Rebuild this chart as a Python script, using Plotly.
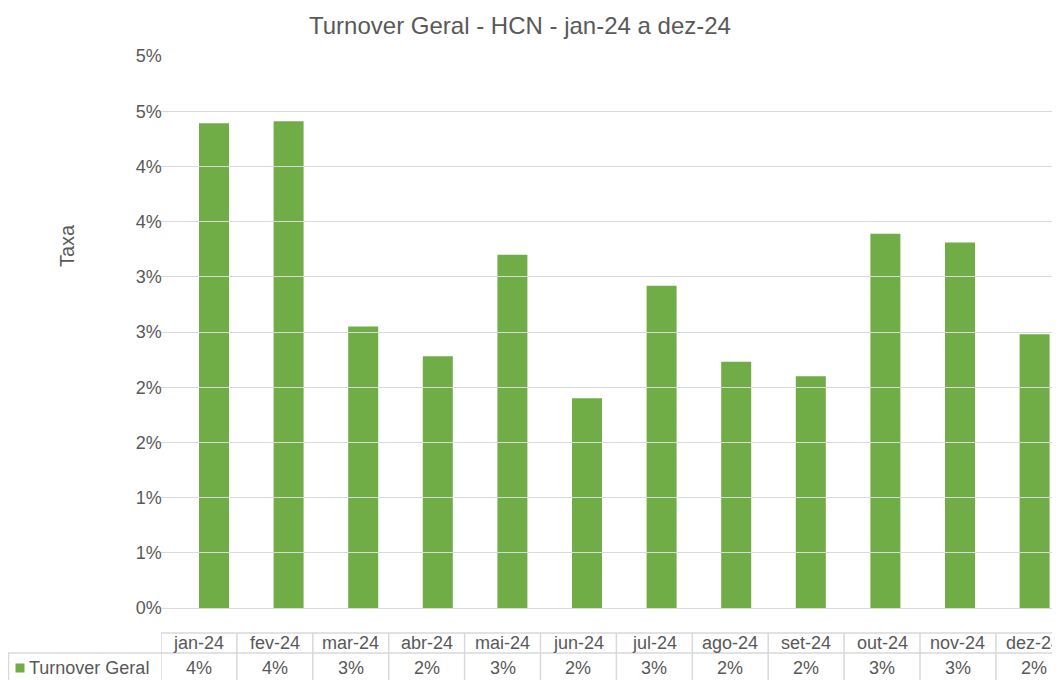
import plotly.graph_objects as go

# ---------------- data ----------------
months = ["jan-24", "fev-24", "mar-24", "abr-24", "mai-24", "jun-24",
          "jul-24", "ago-24", "set-24", "out-24", "nov-24", "dez-24"]
turnover = [0.0439, 0.0441, 0.0255, 0.0228, 0.0320, 0.0190,
            0.0292, 0.0223, 0.0210, 0.0339, 0.0331, 0.0248]
series_name = "Turnover Geral"
y_tickvals = [0.0, 0.005, 0.01, 0.015, 0.02, 0.025, 0.03, 0.035, 0.04, 0.045, 0.05]
y_ticktext = ["0%", "1%", "1%", "2%", "2%", "3%", "3%", "4%", "4%", "5%", "5%"]
title_text = "Turnover Geral - HCN - jan-24 a dez-24"
y_title = "Taxa"

# ---------------- layout constants ----------------
W, H = 1060, 680
OFF = 8  # page body margin compensation
GREEN = "#70AD47"
TEXT = "#595959"
GRID = "#D9D9D9"
FONT = "Liberation Sans, Arial, sans-serif"


def px(p):
    return (p - OFF) / W


def py(p):
    return 1 - (p - OFF) / H


def pct(v):
    return f"{int(v * 100 + 0.5)}%"


plot_left = 176.7
cat_w = 74.6
tab_left = 161.0
tab_w = 75.9
right_edge = W + OFF

fig = go.Figure()
fig.add_trace(go.Bar(
    x=months, y=turnover, name=series_name,
    marker=dict(color=GREEN, line=dict(width=0)),
    showlegend=False, hoverinfo="x+y",
))
# invisible helper trace for the data-table axis
fig.add_trace(go.Scatter(
    x=list(range(len(months))), y=[None] * len(months),
    xaxis="x2", yaxis="y", mode="markers", showlegend=False, hoverinfo="skip",
))

shapes = []
annotations = []

# data table: header + value row, using x2 (one column per month)
row_top, row_mid, row_bot = 633, 653, 700
line_style = dict(color=GRID, width=1.5)
for k in range(len(months) + 1):
    shapes.append(dict(type="line", xref="x2", yref="paper",
                       x0=k - 0.5, x1=k - 0.5, y0=py(row_top), y1=py(row_bot),
                       line=line_style))
shapes.append(dict(type="line", xref="x2", yref="paper",
                   x0=-0.5, x1=len(months), y0=py(row_top), y1=py(row_top),
                   line=line_style))
shapes.append(dict(type="line", xref="paper", yref="paper",
                   x0=px(8), x1=px(tab_left), y0=py(row_mid), y1=py(row_mid),
                   line=line_style))
shapes.append(dict(type="line", xref="x2", yref="paper",
                   x0=-0.5, x1=len(months), y0=py(row_mid), y1=py(row_mid),
                   line=line_style))
shapes.append(dict(type="line", xref="paper", yref="paper",
                   x0=px(8.5), x1=px(8.5), y0=py(row_mid), y1=py(row_bot),
                   line=line_style))
# right border of the visible table
shapes.append(dict(type="line", xref="paper", yref="paper",
                   x0=px(1059.3), x1=px(1059.3), y0=py(row_top), y1=py(row_bot),
                   line=line_style))
# legend key
shapes.append(dict(type="rect", xref="paper", yref="paper",
                   x0=px(15.5), x1=px(24.5), y0=py(672.5), y1=py(663.5),
                   fillcolor=GREEN, line=dict(width=0)))

for i, (m, v) in enumerate(zip(months, turnover)):
    annotations.append(dict(x=i, xref="x2", y=py(643), yref="paper", text=m,
                            showarrow=False, xanchor="center", yanchor="middle",
                            font=dict(size=18, color=TEXT, family=FONT)))
    annotations.append(dict(x=i, xref="x2", y=py(668), yref="paper", text=pct(v),
                            showarrow=False, xanchor="center", yanchor="middle",
                            font=dict(size=18, color=TEXT, family=FONT)))

annotations.append(dict(x=px(27), xref="paper", y=py(668), yref="paper",
                        text=series_name, showarrow=False, xanchor="left",
                        yanchor="middle", font=dict(size=18, color=TEXT, family=FONT)))
annotations.append(dict(x=px(67), xref="paper", y=py(246), yref="paper",
                        text=y_title, textangle=-90, showarrow=False,
                        xanchor="center", yanchor="middle",
                        font=dict(size=20, color=TEXT, family=FONT)))
annotations.append(dict(x=px(520), xref="paper", y=py(25), yref="paper",
                        text=title_text, showarrow=False,
                        xanchor="center", yanchor="middle",
                        font=dict(size=24, color=TEXT, family=FONT)))

fig.update_layout(
    template="none",
    width=W, height=H, autosize=False,
    margin=dict(l=0, r=0, t=0, b=0, pad=0),
    paper_bgcolor="white", plot_bgcolor="rgba(0,0,0,0)",
    bargap=1 - 30 / cat_w,
    font=dict(family=FONT, color=TEXT, size=18),
    xaxis=dict(
        domain=[px(plot_left), 1], automargin=False,
        type="category", categoryarray=months, categoryorder="array",
        range=[-0.5, -0.5 + (right_edge - plot_left) / cat_w],
        showticklabels=False, showgrid=False, zeroline=False, showline=False,
        ticks="", fixedrange=True,
    ),
    xaxis2=dict(
        domain=[px(tab_left), 1], anchor="y", automargin=False,
        type="linear", range=[-0.5, -0.5 + (right_edge - tab_left) / tab_w],
        visible=False, fixedrange=True,
    ),
    yaxis=dict(
        domain=[py(608), py(56)], automargin=False,
        range=[0, 0.05],
        tickvals=y_tickvals, ticktext=y_ticktext,
        showgrid=True, gridcolor=GRID, gridwidth=1.3,
        zeroline=True, zerolinecolor=GRID, zerolinewidth=1.3,
        showline=False, ticks="", ticklabelstandoff=14,
        tickfont=dict(size=18, color=TEXT, family=FONT),
        fixedrange=True,
    ),
    shapes=shapes,
    annotations=annotations,
)

fig.write_html("out.html")
